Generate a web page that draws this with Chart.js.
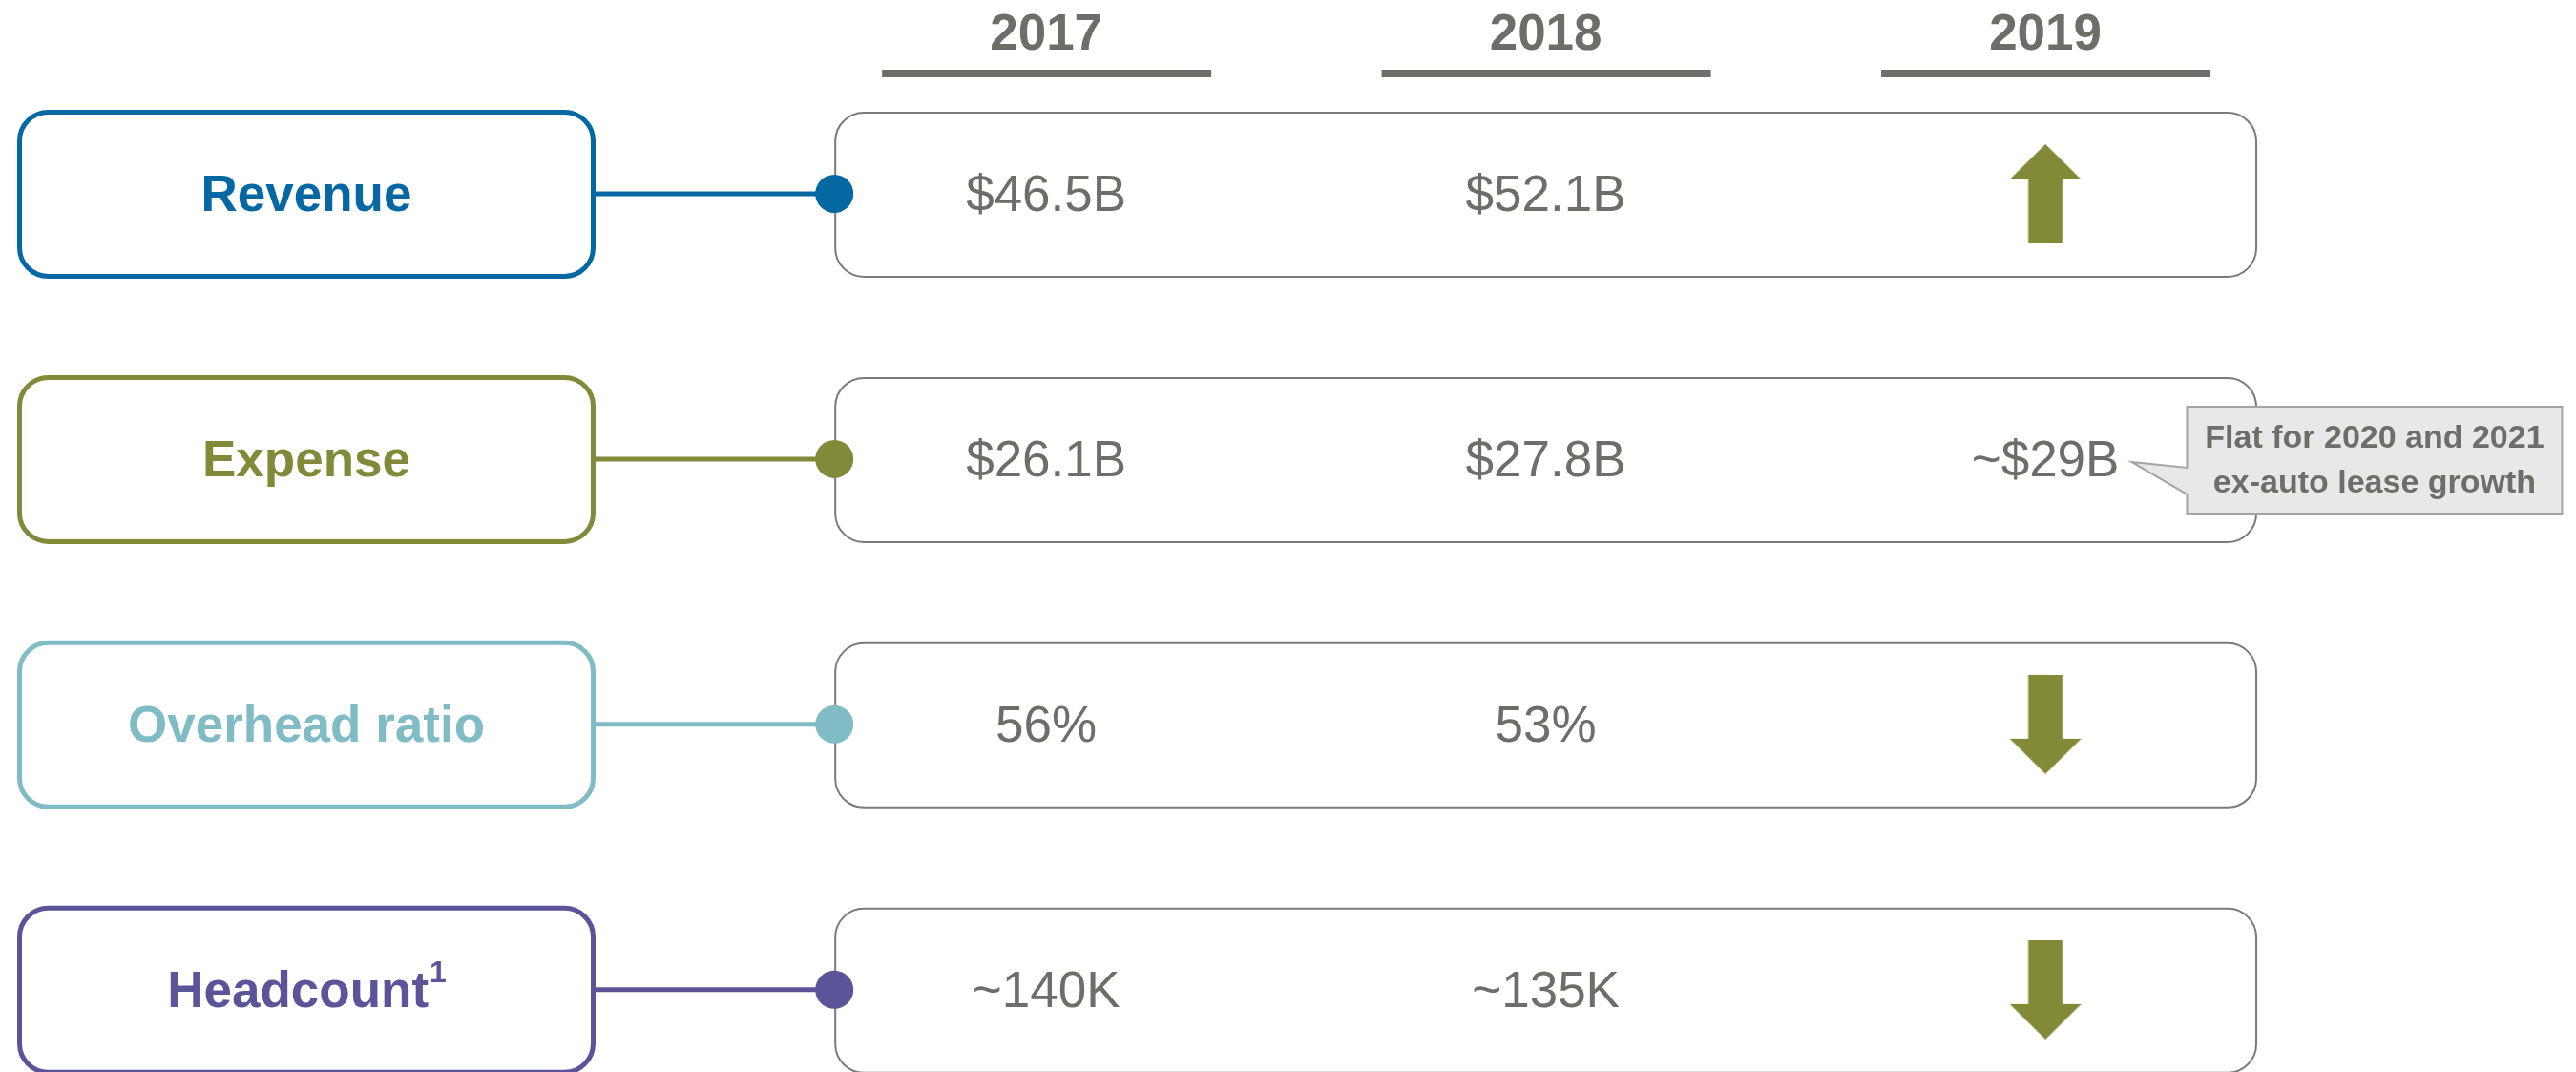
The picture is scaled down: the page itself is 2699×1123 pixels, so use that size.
<!DOCTYPE html>
<html>
<head>
<meta charset="utf-8">
<script src="https://cdn.jsdelivr.net/npm/chart.js@4.4.1/dist/chart.umd.min.js"></script>
<style>
html, body { margin: 0; padding: 0; background: #fff; }
#wrap { width: 2699px; height: 1123px; }
</style>
</head>
<body>
<div id="wrap"><canvas id="kpiChart"></canvas></div>
<script>
const YEARS = [2017, 2018, 2019];
const METRICS = ["Revenue", "Expense", "Overhead ratio", "Headcount"];
const METRIC_NOTES = ["", "", "", "1"];
const METRIC_COLORS = ["#0568a3", "#808a38", "#80bcc6", "#5b5499"];

const REVENUE = [46.5, 52.1, null];   // $B
const EXPENSE = [26.1, 27.8, 29];     // $B, 2019 = guidance
const OVERHEAD = [56, 53, null];      // %
const HEADCOUNT = [140, 135, null];   // K
const APPROX = [
    [false, false, false],
    [false, false, true],
    [false, false, false],
    [true, true, false],
];
const OUTLOOK_2019 = ["up", null, "down", "down"];
const EXPENSE_NOTE = ["Flat for 2020 and 2021", "ex-auto lease growth"];

const GREY = "#6d6e69";
const ARROW_COLOR = "#828a38";
const FONT = "'Liberation Sans', Arial, sans-serif";

// column half-width of the value panel, in years
const PANEL_PAD = 0.424;

function fmtMoney(v, approx) {
    return approx ? "~$" + v + "B" : "$" + v.toFixed(1) + "B";
}
function fmtPct(v, approx) {
    return (approx ? "~" : "") + v + "%";
}
function fmtK(v, approx) {
    return (approx ? "~" : "") + v + "K";
}

const ROWS = [REVENUE, EXPENSE, OVERHEAD, HEADCOUNT];
const FORMATS = [fmtMoney, fmtMoney, fmtPct, fmtK];

function makeArrow(dir) {
    const c = document.createElement("canvas");
    c.width = 75;
    c.height = 104;
    const g = c.getContext("2d");
    g.fillStyle = ARROW_COLOR;
    g.beginPath();
    const pts = [[37.5, 0], [75, 37], [55.5, 37], [55.5, 104], [19.5, 104], [19.5, 37], [0, 37]];
    pts.forEach(([px, py], i) => {
        const yy = dir === "up" ? py : 104 - py;
        if (i === 0) g.moveTo(px, yy); else g.lineTo(px, yy);
    });
    g.closePath();
    g.fill();
    return c;
}
const arrowImgs = { up: makeArrow("up"), down: makeArrow("down") };

const valuePoints = [];
ROWS.forEach((vals, i) => {
    vals.forEach((v, j) => {
        if (v === null) return;
        valuePoints.push({ x: YEARS[j], y: i, label: FORMATS[i](v, APPROX[i][j]) });
    });
});
const arrowPoints = [];
OUTLOOK_2019.forEach((d, i) => {
    if (d) arrowPoints.push({ x: YEARS[2], y: i, dir: d });
});
const dotPoints = METRICS.map((m, i) => ({ x: YEARS[0] - PANEL_PAD, y: i }));

function pill(ctx, x, y, w, h, r) {
    ctx.beginPath();
    ctx.roundRect(x, y, w, h, r);
}

const boardPlugin = {
    id: "board",
    beforeDatasetsDraw(chart) {
        const { ctx } = chart;
        const xs = chart.scales.x, ys = chart.scales.y;
        ctx.save();

        // year headers
        ctx.font = "bold 53px " + FONT;
        ctx.textAlign = "center";
        ctx.textBaseline = "alphabetic";
        ctx.fillStyle = GREY;
        YEARS.forEach((yr) => {
            const px = xs.getPixelForValue(yr);
            ctx.fillText(String(yr), px, 52);
            ctx.fillRect(px - 172, 73, 345, 8);
        });

        const left = xs.getPixelForValue(YEARS[0] - PANEL_PAD);
        const right = xs.getPixelForValue(YEARS[2] + PANEL_PAD);

        METRICS.forEach((name, i) => {
            const py = ys.getPixelForValue(i);
            const col = METRIC_COLORS[i];

            // value panel
            pill(ctx, left + 1, py - 85, right - left - 2, 172, 30);
            ctx.fillStyle = "#fff";
            ctx.fill();
            ctx.lineWidth = 2;
            ctx.strokeStyle = "#7a7a7a";
            ctx.stroke();

            // label box
            pill(ctx, 20.5, py - 85.5, 601, 172, 30);
            ctx.lineWidth = 5;
            ctx.strokeStyle = col;
            ctx.stroke();

            // connector
            ctx.beginPath();
            ctx.moveTo(621.5, py);
            ctx.lineTo(left, py);
            ctx.lineWidth = 5;
            ctx.stroke();

            // label text (+ footnote marker)
            ctx.fillStyle = col;
            ctx.font = "bold 53px " + FONT;
            const w1 = ctx.measureText(name).width;
            const note = METRIC_NOTES[i];
            ctx.font = "bold 32px " + FONT;
            const w2 = note ? ctx.measureText(note).width : 0;
            const cx = 321;
            const start = cx - (w1 + w2) / 2;
            ctx.textAlign = "left";
            ctx.font = "bold 53px " + FONT;
            ctx.fillText(name, start, py + 18);
            if (note) {
                ctx.font = "bold 32px " + FONT;
                ctx.fillText(note, start + w1 + 1, py - 8);
            }
            ctx.textAlign = "center";
        });
        ctx.restore();
    },
    afterDatasetsDraw(chart) {
        const { ctx } = chart;
        const meta = chart.getDatasetMeta(0);
        ctx.save();
        ctx.font = "53px " + FONT;
        ctx.fillStyle = GREY;
        ctx.textAlign = "center";
        ctx.textBaseline = "alphabetic";
        let calloutAt = null;
        meta.data.forEach((el, k) => {
            const p = valuePoints[k];
            ctx.fillText(p.label, el.x, el.y + 18);
            if (p.y === 1 && p.x === YEARS[2]) {
                calloutAt = { x: el.x + ctx.measureText(p.label).width / 2, y: el.y };
            }
        });

        if (calloutAt) {
            const tipX = calloutAt.x + 13, tipY = calloutAt.y + 3;
            const bx = tipX + 58, by = calloutAt.y - 55, bw = 393, bh = 112;
            ctx.beginPath();
            ctx.moveTo(bx, by);
            ctx.lineTo(bx + bw, by);
            ctx.lineTo(bx + bw, by + bh);
            ctx.lineTo(bx, by + bh);
            ctx.lineTo(bx, calloutAt.y + 37);
            ctx.lineTo(tipX, tipY);
            ctx.lineTo(bx, calloutAt.y + 9);
            ctx.closePath();
            ctx.fillStyle = "#e8e8e8";
            ctx.fill();
            ctx.lineWidth = 2;
            ctx.strokeStyle = "#a4a4a4";
            ctx.stroke();

            ctx.fillStyle = GREY;
            ctx.font = "bold 34px " + FONT;
            ctx.fillText(EXPENSE_NOTE[0], bx + bw / 2, calloutAt.y - 12);
            ctx.fillText(EXPENSE_NOTE[1], bx + bw / 2, calloutAt.y + 35);
        }
        ctx.restore();
    },
};

new Chart(document.getElementById("kpiChart"), {
    type: "scatter",
    data: {
        datasets: [
            {
                label: "Values",
                data: valuePoints,
                pointRadius: 0,
                pointHoverRadius: 0,
                order: 2,
            },
            {
                label: "2019 outlook",
                data: arrowPoints,
                pointRadius: 10,
                pointStyle: (c) => arrowImgs[c.raw ? c.raw.dir : "up"],
                order: 1,
            },
            {
                label: "Metrics",
                data: dotPoints,
                pointRadius: 20,
                pointHoverRadius: 20,
                pointBorderWidth: 0,
                pointBackgroundColor: METRIC_COLORS,
                order: 0,
            },
        ],
    },
    options: {
        responsive: true,
        maintainAspectRatio: false,
        animation: false,
        events: [],
        layout: { padding: 0, autoPadding: false },
        plugins: {
            legend: { display: false },
            tooltip: { enabled: false },
        },
        scales: {
            x: {
                type: "linear",
                display: false,
                min: 2014.906,
                max: 2020.062,
            },
            y: {
                type: "linear",
                display: false,
                reverse: true,
                min: -0.730,
                max: 3.310,
            },
        },
    },
    plugins: [boardPlugin],
});
</script>
</body>
</html>
